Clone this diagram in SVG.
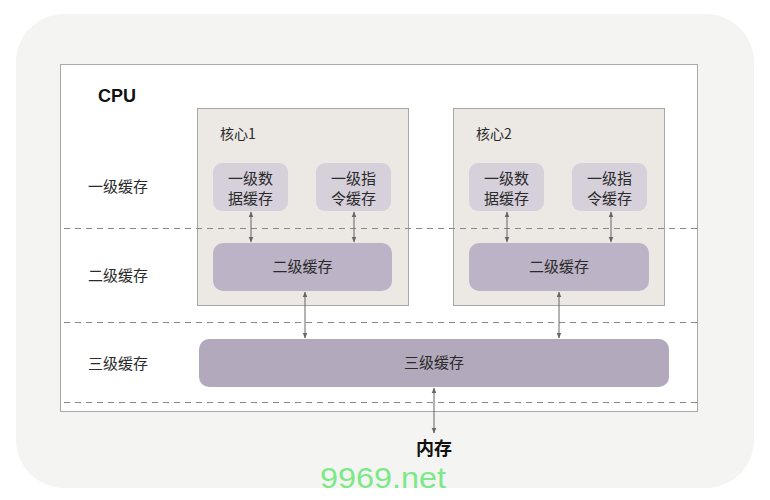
<svg xmlns="http://www.w3.org/2000/svg" width="770" height="500" viewBox="0 0 770 500">
<style>
text{font-family:"Noto Sans CJK SC","Liberation Sans",sans-serif;fill:#2a2a2a;font-size:15px}
.c{text-anchor:middle}
.core{fill:#ece8e4;stroke:#a9a6a3;stroke-width:1}
.l1{fill:#d5d0da}
.l2{fill:#bcb3c6}
.l3{fill:#b3a9bd}
.dash{stroke:#888;stroke-width:1.2;stroke-dasharray:6 5;fill:none}
.arr{stroke:#666;stroke-width:1;fill:none;marker-start:url(#ah);marker-end:url(#ah)}
</style>
<defs>
<marker id="ah" viewBox="0 0 10 10" refX="9" refY="5" markerWidth="6" markerHeight="6" orient="auto-start-reverse" markerUnits="userSpaceOnUse">
<path d="M0,1 L10,5 L0,9 Z" fill="#666"/>
</marker>
</defs>
<rect x="16" y="14" width="738" height="474" rx="48" fill="#f4f4f2"/>
<g id="cpu">
<rect x="60.5" y="64.5" width="637" height="347" fill="#fff" stroke="#a9a9a9"/>
<text x="98" y="102" style="font-family:'Liberation Sans',sans-serif;font-weight:bold;font-size:18px;fill:#111">CPU</text>
</g>
<g id="labels">
<text x="88" y="192">一级缓存</text>
<text x="88" y="281">二级缓存</text>
<text x="88" y="369">三级缓存</text>
</g>
<g id="core1">
<rect class="core" x="197.5" y="108.5" width="211" height="197"/>
<text x="220" y="139" style="font-size:14px">核心1</text>
</g>
<g id="core2">
<rect class="core" x="453.5" y="108.5" width="211" height="197"/>
<text x="476" y="139" style="font-size:14px">核心2</text>
</g>
<g id="connectorsDash">
<line class="dash" x1="64" y1="228.5" x2="697" y2="228.5"/>
<line class="dash" x1="64" y1="322.5" x2="697" y2="322.5"/>
<line class="dash" x1="64" y1="402.5" x2="697" y2="402.5"/>
</g>
<g id="l1d-1"><rect class="l1" x="213" y="163" width="75" height="48" rx="9"/><text class="c" x="250.5" y="184">一级数</text><text class="c" x="250.5" y="204">据缓存</text></g>
<g id="l1i-1"><rect class="l1" x="316" y="163" width="75" height="48" rx="9"/><text class="c" x="353.5" y="184">一级指</text><text class="c" x="353.5" y="204">令缓存</text></g>
<g id="l1d-2"><rect class="l1" x="469" y="163" width="75" height="48" rx="9"/><text class="c" x="506.5" y="184">一级数</text><text class="c" x="506.5" y="204">据缓存</text></g>
<g id="l1i-2"><rect class="l1" x="572" y="163" width="75" height="48" rx="9"/><text class="c" x="609.5" y="184">一级指</text><text class="c" x="609.5" y="204">令缓存</text></g>
<g id="l2-1"><rect class="l2" x="213" y="243" width="179" height="48" rx="10"/><text class="c" x="302.5" y="272">二级缓存</text></g>
<g id="l2-2"><rect class="l2" x="469" y="243" width="180" height="48" rx="10"/><text class="c" x="559" y="272">二级缓存</text></g>
<g id="l3"><rect class="l3" x="199" y="339" width="470" height="48" rx="10"/><text class="c" x="434" y="368">三级缓存</text></g>
<g id="mem"><text class="c" x="434" y="455" style="font-weight:bold;font-size:18px;fill:#111">内存</text></g>
<g id="connectors">
<line class="arr" x1="251" y1="212" x2="251" y2="242"/>
<line class="arr" x1="354" y1="212" x2="354" y2="242"/>
<line class="arr" x1="507" y1="212" x2="507" y2="242"/>
<line class="arr" x1="611" y1="212" x2="611" y2="242"/>
<line class="arr" x1="305" y1="292" x2="305" y2="338"/>
<line class="arr" x1="559" y1="292" x2="559" y2="338"/>
<line class="arr" x1="434" y1="388" x2="434" y2="433"/>
</g>
<text x="320" y="488" textLength="126" lengthAdjust="spacingAndGlyphs" style="font-family:'Liberation Sans',sans-serif;font-size:30px;fill:#7de888">9969.net</text>
</svg>
